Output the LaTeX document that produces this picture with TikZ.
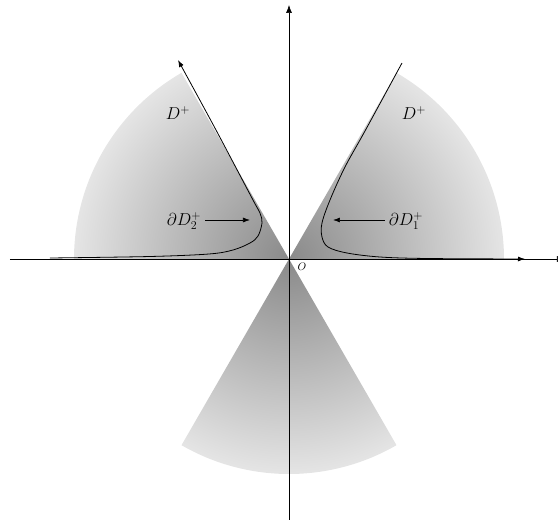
\documentclass[tikz,border=0pt]{standalone}
\usetikzlibrary{arrows.meta}
\pgfdeclareradialshading{sectshade}{\pgfpointorigin}{color(0bp)=(black!46); color(216bp)=(black!10)}
\tikzset{
  axis/.style={line width=0.6pt, -{Latex[length=8pt,width=6pt]}},
  bdry/.style={line width=0.8pt},
  tipped/.style={-{Latex[length=7pt,width=5pt]}},
  lbl/.style={font=\fontsize{18}{20}\selectfont, inner sep=0pt},
}
\begin{document}
\begin{tikzpicture}[x=1pt,y=1pt]
\useasboundingbox (-289,-261) rectangle (269,259);
\clip (-289,-261) rectangle (269,259);
\coordinate (O) at (0,0);
% shaded sectors
\foreach \a in {0,120,240}{
  \begin{scope}
    \clip (O) -- (\a:215) arc[start angle=\a, end angle=\a+60, radius=215] -- cycle;
    \node[inner sep=0pt, outer sep=0pt] (sh\a) at (O) {\pgfuseshading{sectshade}};
  \end{scope}
}
% axes
\coordinate (xl) at (-279,0);
\coordinate (xr) at (276,0);
\coordinate (yb) at (0,-265);
\coordinate (yt) at (0,254);
\draw[axis] (xl) -- (xr);
\draw[axis] (yb) -- (yt);
\node[font=\fontsize{11}{12}\selectfont, inner sep=0pt] (olbl) at (13,-8) {$O$};
% boundary curves
\draw[bdry, tipped] plot[smooth, tension=0.55] coordinates {(-239,1) (-139,2.5) (-80,5) (-56,9) (-39,16) (-31,23) (-27,36) (-29,46) (-36,59) (-73,129) (-111,199)};
\draw[bdry, tipped] plot[smooth, tension=0.55] coordinates {(113,196) (76,128) (56,92) (41,59) (33,36) (33,22) (39,12) (58,6) (91,2) (138,0.5) (236,0)};
% labels
\node[lbl] (dl) at (-111,146) {$D^+$};
\node[lbl] (dr) at (125,146) {$D^+$};
\node[lbl] (d2) at (-105,38) {$\partial D_2^+$};
\node[lbl] (d1) at (117,38) {$\partial D_1^+$};
\coordinate (t2) at (-39,39);
\coordinate (t1) at (44,39);
\draw[line width=0.7pt, tipped] ([xshift=4pt]d2.east |- t2) -- (t2);
\draw[line width=0.7pt, tipped] ([xshift=-4pt]d1.west |- t1) -- (t1);
\end{tikzpicture}
\end{document}
